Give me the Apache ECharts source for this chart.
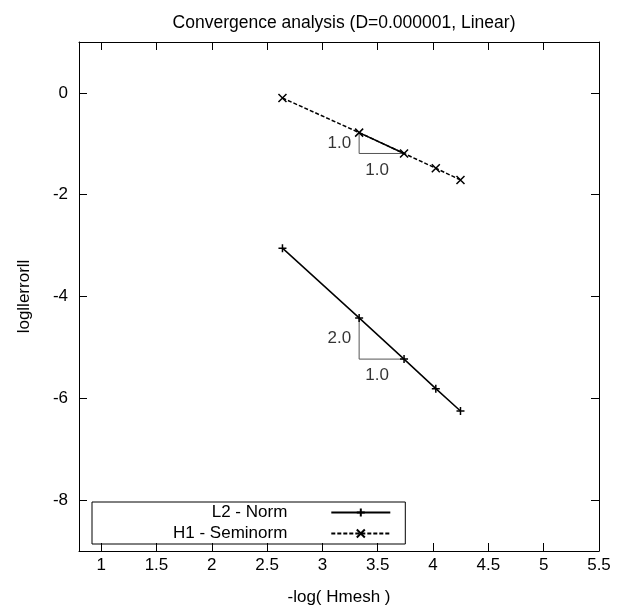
<!DOCTYPE html>
<html>
<head>
<meta charset="utf-8">
<script src="https://cdn.jsdelivr.net/npm/echarts@6/dist/echarts.min.js"></script>
<style>html,body{margin:0;padding:0;background:#fff}#c{width:629px;height:611px}</style>
</head>
<body>
<div id="c"></div>
<script>
// ---- data ----
const titleText = 'Convergence analysis (D=0.000001, Linear)';
const xName = '-log( Hmesh )';
const yName = 'logllerrorll';
const seriesNames = ['L2 - Norm', 'H1 - Seminorm'];
const xVals = [2.639, 3.332, 3.738, 4.025, 4.248];
const l2Vals = [-3.05, -4.42, -5.23, -5.81, -6.25];
const h1Vals = [-0.10, -0.78, -1.19, -1.48, -1.71];
const xTicks = [1, 1.5, 2, 2.5, 3, 3.5, 4, 4.5, 5, 5.5];
const yTicks = [0, -2, -4, -6, -8];
const xRange = [0.8, 5.5];
const yRange = [-9, 1];
const triIdx = [1, 2];               // points that the slope triangles join
const l2SlopeLabels = ['2.0', '1.0']; // [vertical, horizontal]
const h1SlopeLabels = ['1.0', '1.0'];

// ---- chart ----
const FONT = 'Liberation Sans, Arial, Helvetica, sans-serif';
const FS = 17;
const pts = ys => xVals.map((x, i) => [x, ys[i]]);
function triangle(ys) {
  const a = [xVals[triIdx[0]], ys[triIdx[0]]], b = [xVals[triIdx[1]], ys[triIdx[1]]];
  return [a, [a[0], b[1]], b];
}
function triLabels(ys, labels) {
  const a = [xVals[triIdx[0]], ys[triIdx[0]]], b = [xVals[triIdx[1]], ys[triIdx[1]]];
  return [
    { value: [a[0], (a[1] + b[1]) / 2], label: { show: true, position: 'left', distance: 8, formatter: labels[0] } },
    { value: [(a[0] + b[0]) / 2 - 0.04, b[1]], label: { show: true, position: 'bottom', distance: 8, formatter: labels[1] } }
  ];
}
const plusPath = 'path://M0,5L10,5M5,0L5,10';
const crossPath = 'path://M0,0L10,10M10,0L0,10';
const txt = { fontFamily: FONT, fontSize: FS, color: '#000' };
const axisCommon = {
  type: 'value',
  splitLine: { show: false },
  axisLine: { show: true, onZero: false, lineStyle: { color: '#000', width: 1 } }
};
const chart = echarts.init(document.getElementById('c'), null, { renderer: 'canvas' });
chart.setOption({
  backgroundColor: '#fff',
  animation: false,
  title: {
    text: titleText, left: 339, top: 9, textAlign: 'center',
    textStyle: { fontFamily: FONT, fontSize: 17.5, fontWeight: 'normal', color: '#000' }
  },
  grid: { left: 79, right: 30, top: 42, bottom: 58 },
  legend: {
    data: seriesNames,
    orient: 'vertical', align: 'right',
    left: 92, top: 502,
    padding: [2, 14, 2, 81],
    itemWidth: 59, itemHeight: 10, itemGap: 4,
    borderColor: '#000', borderWidth: 1, borderRadius: 0,
    textStyle: { fontFamily: FONT, fontSize: FS, color: '#000', lineHeight: 17, padding: [0, 39, 0, 0] }
  },
  xAxis: [
    Object.assign({}, axisCommon, {
      position: 'bottom', min: xRange[0], max: xRange[1],
      name: xName, nameLocation: 'middle', nameGap: 38, nameTextStyle: txt,
      axisTick: { show: true, inside: true, length: 8, customValues: xTicks, lineStyle: { color: '#000' } },
      axisLabel: { show: true, margin: 6, customValues: xTicks, fontFamily: FONT, fontSize: FS, color: '#000' }
    }),
    Object.assign({}, axisCommon, {
      position: 'top', min: xRange[0], max: xRange[1],
      axisTick: { show: true, inside: true, length: 8, customValues: xTicks, lineStyle: { color: '#000' } },
      axisLabel: { show: false }
    })
  ],
  yAxis: [
    Object.assign({}, axisCommon, {
      position: 'left', min: yRange[0], max: yRange[1],
      name: yName, nameLocation: 'middle', nameGap: 46, nameTextStyle: txt,
      axisTick: { show: true, inside: true, length: 8, customValues: yTicks, lineStyle: { color: '#000' } },
      axisLabel: { show: true, margin: 11, customValues: yTicks, fontFamily: FONT, fontSize: FS, color: '#000' }
    }),
    Object.assign({}, axisCommon, {
      position: 'right', min: yRange[0], max: yRange[1],
      axisTick: { show: true, inside: true, length: 8, customValues: yTicks, lineStyle: { color: '#000' } },
      axisLabel: { show: false }
    })
  ],
  series: [
    { type: 'line', name: 'tri-l2', data: triangle(l2Vals), symbol: 'none', silent: true, z: 1,
      lineStyle: { color: '#555', width: 1 } },
    { type: 'line', name: 'tri-h1', data: triangle(h1Vals), symbol: 'none', silent: true, z: 1,
      lineStyle: { color: '#555', width: 1 } },
    { type: 'scatter', name: 'lbl-l2', data: triLabels(l2Vals, l2SlopeLabels), symbolSize: 0, silent: true,
      label: { fontFamily: FONT, fontSize: FS, color: '#000' } },
    { type: 'scatter', name: 'lbl-h1', data: triLabels(h1Vals, h1SlopeLabels), symbolSize: 0, silent: true,
      label: { fontFamily: FONT, fontSize: FS, color: '#000' } },
    { type: 'line', name: seriesNames[0], data: pts(l2Vals), z: 3,
      symbol: plusPath, symbolSize: 8, showAllSymbol: true,
      lineStyle: { color: '#000', width: 1.5, type: 'solid' },
      itemStyle: { color: 'rgba(0,0,0,0)', borderColor: '#000', borderWidth: 1.5 } },
    { type: 'line', name: seriesNames[1], data: pts(h1Vals), z: 3,
      symbol: crossPath, symbolSize: 8, showAllSymbol: true,
      lineStyle: { color: '#000', width: 1.5, type: [4, 2] },
      itemStyle: { color: 'rgba(0,0,0,0)', borderColor: '#000', borderWidth: 1.5 } },
    { type: 'line', name: 'hyp-h1', data: [pts(h1Vals)[triIdx[0]], pts(h1Vals)[triIdx[1]]], symbol: 'none', silent: true, z: 2,
      lineStyle: { color: '#000', width: 1.5 } }
  ]
});
</script>
</body>
</html>
